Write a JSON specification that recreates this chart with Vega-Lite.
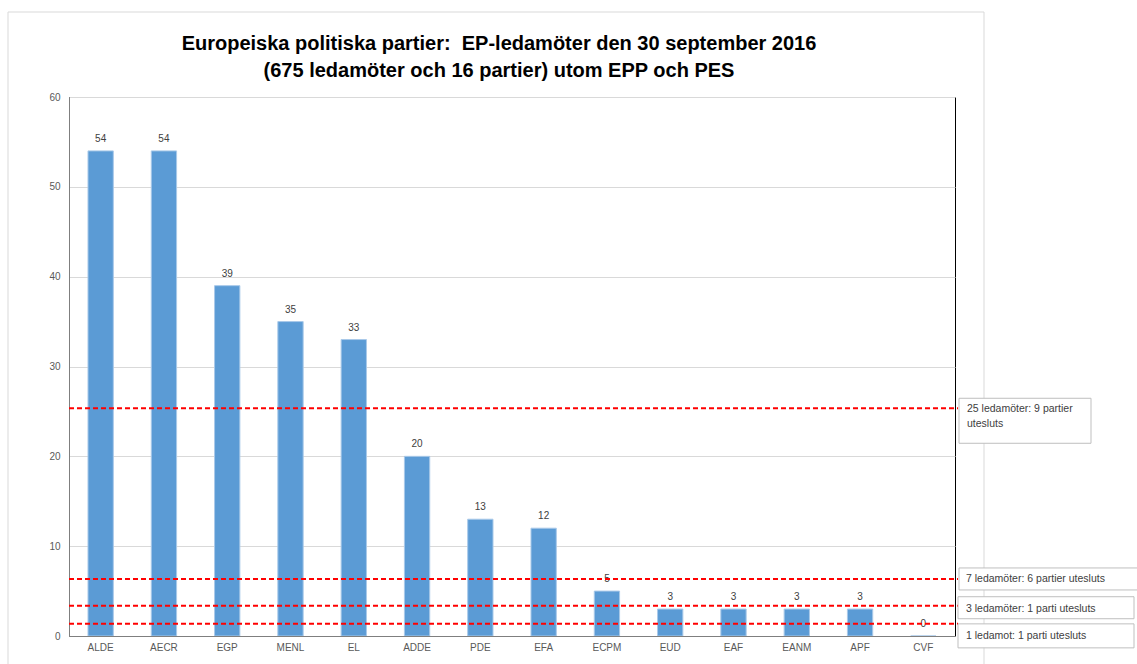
{
  "$schema": "https://vega.github.io/schema/vega-lite/v6.json",
  "autosize": "none",
  "width": 886,
  "height": 539,
  "padding": {"left": 69, "top": 97, "right": 182, "bottom": 28},
  "background": "#ffffff",
  "config": {
    "view": {"stroke": "#000000", "strokeWidth": 1},
    "font": "Liberation Sans",
    "axis": {"labelFont": "Liberation Sans", "labelFontSize": 10, "labelColor": "#595959", "ticks": false, "domainColor": "#7f7f7f", "title": null}
  },
  "title": {
    "text": ["Europeiska politiska partier:\u00a0 EP-ledamöter den 30 september 2016", "(675 ledamöter och 16 partier) utom EPP och PES"],
    "font": "Liberation Sans",
    "fontSize": 20,
    "fontWeight": "bold",
    "color": "#000000",
    "anchor": "middle",
    "dx": -13,
    "offset": -69,
    "lineHeight": 27
  },
  "datasets": {
    "parties": [
      {"party": "ALDE", "members": 54},
      {"party": "AECR", "members": 54},
      {"party": "EGP", "members": 39},
      {"party": "MENL", "members": 35},
      {"party": "EL", "members": 33},
      {"party": "ADDE", "members": 20},
      {"party": "PDE", "members": 13},
      {"party": "EFA", "members": 12},
      {"party": "ECPM", "members": 5},
      {"party": "EUD", "members": 3},
      {"party": "EAF", "members": 3},
      {"party": "EANM", "members": 3},
      {"party": "APF", "members": 3},
      {"party": "CVF", "members": 0}
    ],
    "thresholds": [
      {"id": 1, "level": 25.35, "label": "25 ledamöter: 9 partier\nutesluts"},
      {"id": 2, "level": 6.35, "label": "7 ledamöter: 6 partier utesluts"},
      {"id": 3, "level": 3.37, "label": "3 ledamöter: 1 parti utesluts"},
      {"id": 4, "level": 1.35, "label": "1 ledamot: 1 parti utesluts"}
    ]
  },
  "layer": [
    {
      "data": {"values": [{}]},
      "mark": {"type": "rect", "fill": null, "stroke": "#d9d9d9", "strokeWidth": 1},
      "encoding": {
        "x": {"value": -61},
        "x2": {"value": 915},
        "y": {"value": -85},
        "y2": {"value": 620}
      }
    },
    {
      "data": {"name": "parties"},
      "mark": {"type": "bar", "color": "#5b9bd5", "stroke": "#a9c9e9", "strokeWidth": 1},
      "encoding": {
        "x": {"field": "party", "type": "nominal", "sort": null, "scale": {"paddingInner": 0.6, "paddingOuter": 0.3}, "axis": {"labelAngle": 0, "labelPadding": 6, "zindex": 1}},
        "y": {"field": "members", "type": "quantitative", "scale": {"domain": [0, 60]}, "axis": {"values": [0, 10, 20, 30, 40, 50, 60], "gridColor": "#d9d9d9", "labelPadding": 9}}
      }
    },
    {
      "data": {"name": "parties"},
      "mark": {"type": "text", "baseline": "bottom", "dy": -7, "fontSize": 10, "color": "#404040"},
      "encoding": {
        "x": {"field": "party", "type": "nominal", "sort": null},
        "y": {"field": "members", "type": "quantitative"},
        "text": {"field": "members", "type": "quantitative"}
      }
    },
    {
      "data": {"name": "thresholds"},
      "mark": {"type": "rule", "color": "#ff0000", "strokeWidth": 2, "strokeDash": [5, 3]},
      "encoding": {
        "x": {"value": 0},
        "x2": {"value": 889},
        "y": {"field": "level", "type": "quantitative"}
      }
    },
    {
      "data": {"name": "thresholds"},
      "transform": [{"filter": "datum.id == 1"}],
      "mark": {"type": "rect", "fill": "#ffffff", "stroke": "#bfbfbf", "strokeWidth": 1, "yOffset": -10, "y2Offset": 35},
      "encoding": {
        "x": {"value": 890},
        "x2": {"value": 1022},
        "y": {"field": "level", "type": "quantitative"},
        "y2": {"field": "level"}
      }
    },
    {
      "data": {"name": "thresholds"},
      "transform": [{"filter": "datum.id == 2"}],
      "mark": {"type": "rect", "fill": "#ffffff", "stroke": "#bfbfbf", "strokeWidth": 1, "yOffset": -11, "y2Offset": 11},
      "encoding": {
        "x": {"value": 890},
        "x2": {"value": 1075},
        "y": {"field": "level", "type": "quantitative"},
        "y2": {"field": "level"}
      }
    },
    {
      "data": {"name": "thresholds"},
      "transform": [{"filter": "datum.id == 3"}],
      "mark": {"type": "rect", "fill": "#ffffff", "stroke": "#bfbfbf", "strokeWidth": 1, "yOffset": -9, "y2Offset": 13},
      "encoding": {
        "x": {"value": 889},
        "x2": {"value": 1065},
        "y": {"field": "level", "type": "quantitative"},
        "y2": {"field": "level"}
      }
    },
    {
      "data": {"name": "thresholds"},
      "transform": [{"filter": "datum.id == 4"}],
      "mark": {"type": "rect", "fill": "#ffffff", "stroke": "#bfbfbf", "strokeWidth": 1, "yOffset": 0, "y2Offset": 24},
      "encoding": {
        "x": {"value": 889},
        "x2": {"value": 1065},
        "y": {"field": "level", "type": "quantitative"},
        "y2": {"field": "level"}
      }
    },
    {
      "data": {"name": "thresholds"},
      "transform": [{"filter": "datum.id == 1"}],
      "mark": {"type": "text", "align": "left", "baseline": "top", "yOffset": -4, "lineBreak": "\n", "lineHeight": 15, "fontSize": 10.5, "color": "#404040"},
      "encoding": {
        "x": {"value": 898},
        "y": {"field": "level", "type": "quantitative"},
        "text": {"field": "label", "type": "nominal"}
      }
    },
    {
      "data": {"name": "thresholds"},
      "transform": [{"filter": "datum.id == 2"}],
      "mark": {"type": "text", "align": "left", "baseline": "middle", "yOffset": 0, "fontSize": 10.5, "color": "#404040"},
      "encoding": {
        "x": {"value": 897},
        "y": {"field": "level", "type": "quantitative"},
        "text": {"field": "label", "type": "nominal"}
      }
    },
    {
      "data": {"name": "thresholds"},
      "transform": [{"filter": "datum.id == 3"}],
      "mark": {"type": "text", "align": "left", "baseline": "middle", "yOffset": 3, "fontSize": 10.5, "color": "#404040"},
      "encoding": {
        "x": {"value": 897},
        "y": {"field": "level", "type": "quantitative"},
        "text": {"field": "label", "type": "nominal"}
      }
    },
    {
      "data": {"name": "thresholds"},
      "transform": [{"filter": "datum.id == 4"}],
      "mark": {"type": "text", "align": "left", "baseline": "middle", "yOffset": 12, "fontSize": 10.5, "color": "#404040"},
      "encoding": {
        "x": {"value": 897},
        "y": {"field": "level", "type": "quantitative"},
        "text": {"field": "label", "type": "nominal"}
      }
    }
  ]
}
